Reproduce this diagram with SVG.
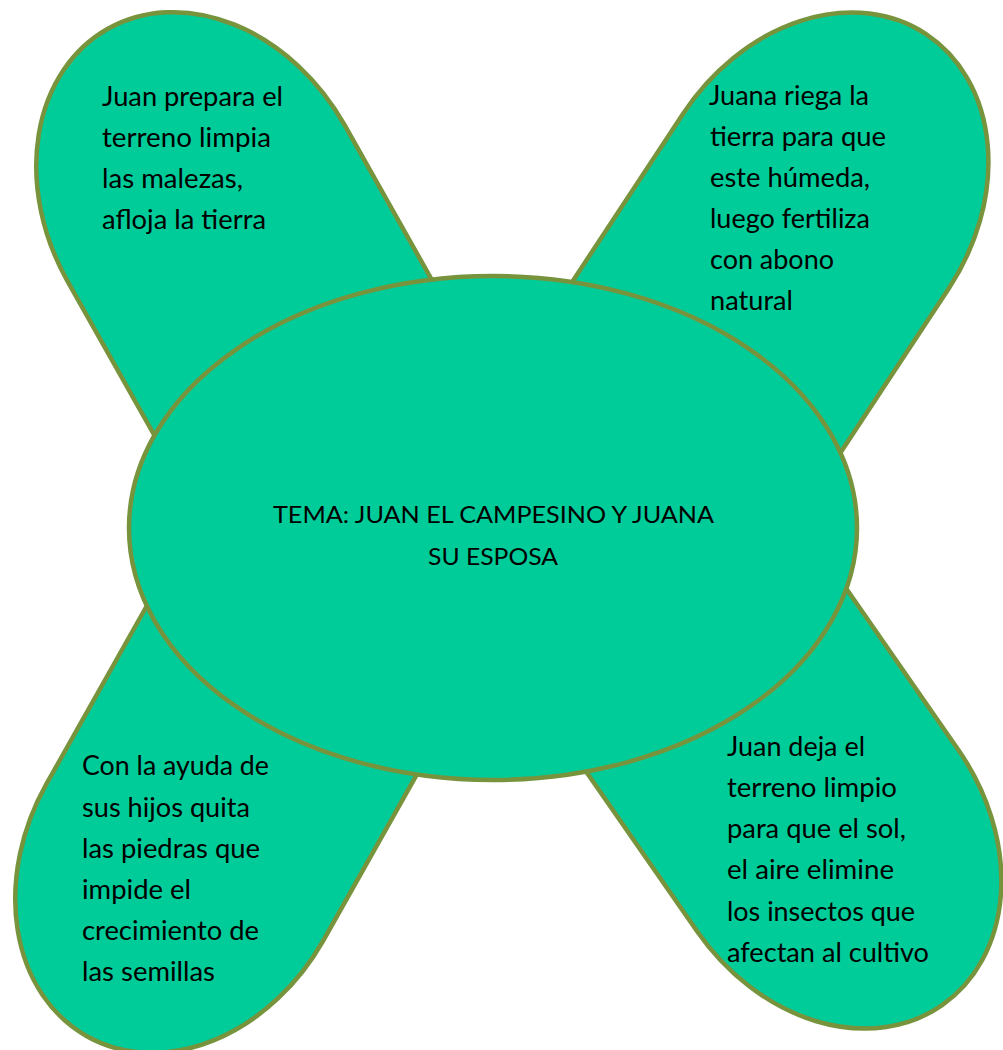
<svg xmlns="http://www.w3.org/2000/svg" width="1003" height="1050" viewBox="0 0 1003 1050">
<defs>
<path id="petal" d="M0,-159 L245,-159 A159,159 0 0 1 245,159 L0,159 A200,159 0 0 1 0,-159 Z"/>
</defs>
<style>
.shape{fill:#00CC99;stroke:#77933C;stroke-width:4.5}
.t{font-family:Lato,"Liberation Sans",sans-serif;font-size:26px;fill:#000}
.c{font-family:Lato,"Liberation Sans",sans-serif;font-size:23px;fill:#000;text-anchor:middle}
</style>
<rect width="1003" height="1050" fill="#fff"/>
<g id="petal-top-left">
<use href="#petal" class="shape" transform="translate(206,203) rotate(60.6)"/>
<text class="t"><tspan x="102" y="106" textLength="181" lengthAdjust="spacingAndGlyphs">Juan prepara el</tspan><tspan x="102" y="147" textLength="169" lengthAdjust="spacingAndGlyphs">terreno limpia</tspan><tspan x="102" y="188" textLength="141" lengthAdjust="spacingAndGlyphs">las malezas,</tspan><tspan x="102" y="229" textLength="164" lengthAdjust="spacingAndGlyphs">afloja la tierra</tspan></text>
</g>
<g id="petal-top-right">
<use href="#petal" class="shape" transform="translate(816,201) rotate(123.4)"/>
<text class="t"><tspan x="709" y="105" textLength="160" lengthAdjust="spacingAndGlyphs">Juana riega la</tspan><tspan x="710" y="146" textLength="176" lengthAdjust="spacingAndGlyphs">tierra para que</tspan><tspan x="710" y="187" textLength="160" lengthAdjust="spacingAndGlyphs">este húmeda,</tspan><tspan x="710" y="228" textLength="160" lengthAdjust="spacingAndGlyphs">luego fertiliza</tspan><tspan x="710" y="269" textLength="124" lengthAdjust="spacingAndGlyphs">con abono</tspan><tspan x="710" y="310" textLength="83" lengthAdjust="spacingAndGlyphs">natural</tspan></text>
</g>
<g id="petal-bottom-left">
<use href="#petal" class="shape" transform="translate(185,862) rotate(-60.6)"/>
<text class="t"><tspan x="82" y="775" textLength="187" lengthAdjust="spacingAndGlyphs">Con la ayuda de</tspan><tspan x="82" y="817" textLength="168" lengthAdjust="spacingAndGlyphs">sus hijos quita</tspan><tspan x="82" y="858" textLength="178" lengthAdjust="spacingAndGlyphs">las piedras que</tspan><tspan x="82" y="899" textLength="109" lengthAdjust="spacingAndGlyphs">impide el</tspan><tspan x="82" y="940" textLength="177" lengthAdjust="spacingAndGlyphs">crecimiento de</tspan><tspan x="82" y="981" textLength="133" lengthAdjust="spacingAndGlyphs">las semillas</tspan></text>
</g>
<g id="petal-bottom-right">
<use href="#petal" class="shape" transform="translate(828,841) rotate(-124.8)"/>
<text class="t"><tspan x="727" y="756" textLength="138" lengthAdjust="spacingAndGlyphs">Juan deja el</tspan><tspan x="727" y="797" textLength="170" lengthAdjust="spacingAndGlyphs">terreno limpio</tspan><tspan x="727" y="838" textLength="179" lengthAdjust="spacingAndGlyphs">para que el sol,</tspan><tspan x="727" y="879" textLength="167" lengthAdjust="spacingAndGlyphs">el aire elimine</tspan><tspan x="727" y="921" textLength="188" lengthAdjust="spacingAndGlyphs">los insectos que</tspan><tspan x="727" y="962" textLength="202" lengthAdjust="spacingAndGlyphs">afectan al cultivo</tspan></text>
</g>
<g id="center">
<ellipse class="shape" cx="493" cy="528" rx="364" ry="252"/>
<text class="c"><tspan x="493.5" y="523" textLength="441" lengthAdjust="spacingAndGlyphs">TEMA: JUAN EL CAMPESINO Y JUANA</tspan><tspan x="493" y="565" textLength="130" lengthAdjust="spacingAndGlyphs">SU ESPOSA</tspan></text>
</g>
<g id="connectors"></g>
</svg>
